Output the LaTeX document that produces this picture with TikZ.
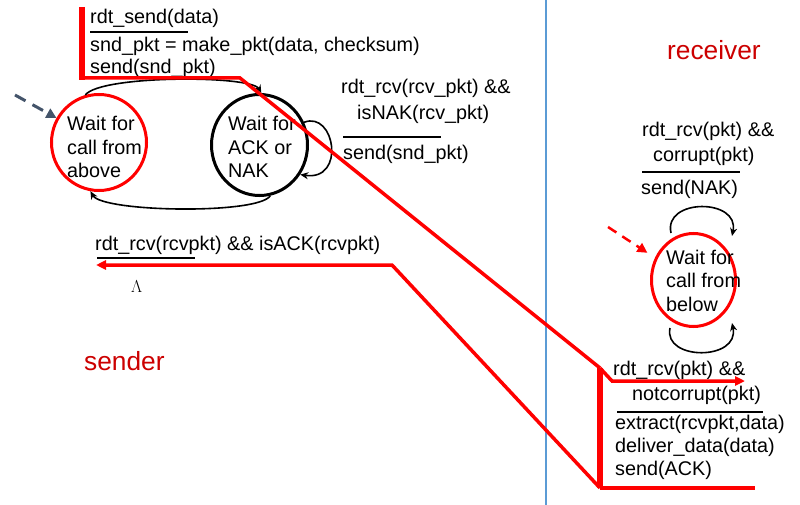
\documentclass[tikz,border=0pt]{standalone}
\usepackage{fontspec}
\setmainfont{Liberation Sans}
\usetikzlibrary{arrows.meta,shapes.geometric}
\definecolor{hilite}{RGB}{255,0,0}
\definecolor{sidelabel}{RGB}{204,0,0}
\definecolor{slate}{RGB}{68,84,106}
\definecolor{divider}{RGB}{91,155,213}

\begin{document}
\begin{tikzpicture}[x=1pt,y=-1pt,
  txt/.style={inner sep=0pt, anchor=base west, font=\fontsize{19.8}{23.5}\selectfont},
  side/.style={inner sep=0pt, anchor=base west, text=sidelabel, font=\fontsize{26.3}{30}\selectfont},
  state/.style={ellipse, draw, line width=3pt, inner sep=0pt},
  rule/.style={line width=2pt},
  loop/.style={line width=1.6pt, -{Stealth[length=8pt,width=7pt]}},
  hl/.style={draw=hilite, line width=3.5pt, line join=miter},
  hlbar/.style={draw=hilite, line width=5.5pt},
  hlarrow/.style={hl, -{Triangle[length=10pt,width=9pt]}},
  initarrow/.style={line width=3pt, dash pattern=on 12pt off 8pt, -{Triangle[length=10pt,width=10pt]}}
]
\useasboundingbox (0,0) rectangle (800,505);

% sender / receiver divider
\draw[divider, line width=1.2pt] (546,0) -- (546,505);

% ---------- sender states ----------
\node[state, draw=hilite, minimum width=95pt, minimum height=96pt] (above) at (99,142.5) {};
\node[state, draw=black, minimum width=96pt, minimum height=101pt] (ack) at (259.5,145) {};
\node[txt] (abovetxt) at (67,131) {\begin{tabular}[t]{@{}l@{}}Wait for\\call from\\above\end{tabular}};
\node[txt] (acktxt) at (228,131) {\begin{tabular}[t]{@{}l@{}}Wait for\\ACK or\\NAK\end{tabular}};

% sender transitions
\draw[loop] (above.106) .. controls +(15,-20) and +(-10,-18) .. (ack.88);
\draw[loop] (ack.-78) .. controls +(-12,19) and +(12,21) .. (above.-100);
\draw[loop] (ack.27) .. controls +(31,-12) and +(46,7) .. (ack.-36);
\coordinate (sinit) at (15,95);
\draw[initarrow, slate] (sinit) -- (above.150);

% sender labels
\node[txt] (sendev) at (90,24) {rdt\_send(data)};
\draw[rule] (90,32) -- (188,32);
\node[txt] (sendact1) at (90,52) {snd\_pkt = make\_pkt(data, checksum)};
\node[txt] (sendact2) at (90,74) {send(snd\_pkt)};

\node[txt] (nakev1) at (341,94) {rdt\_rcv(rcv\_pkt) \&\&};
\node[txt] (nakev2) at (357,120) {isNAK(rcv\_pkt)};
\draw[rule] (343,137) -- (441,137);
\node[txt] (nakact) at (343,160) {send(snd\_pkt)};

\node[txt] (ackev) at (95,250) {rdt\_rcv(rcvpkt) \&\& isACK(rcvpkt)};
\draw[rule] (97,258) -- (195,258);
\node[inner sep=0pt, anchor=base west, font=\fontsize{17}{20}\selectfont] (lambda) at (131,292) {$\Lambda$};

\node[side] (sender) at (84,370) {sender};

% ---------- receiver state ----------
\node[side] (receiver) at (667,60) {receiver};
\node[state, draw=hilite, minimum width=84pt, minimum height=93pt] (below) at (693.5,280) {};
\node[txt] (belowtxt) at (666,264) {\begin{tabular}[t]{@{}l@{}}Wait for\\call from\\below\end{tabular}};

% self loops drawn just above and below the state
\coordinate (toploopa) at (671,233);
\coordinate (toploopb) at (732,236);
\coordinate (botloopa) at (670,328);
\coordinate (botloopb) at (732,323);
\draw[loop] (toploopa) .. controls (663,198) and (740,198) .. (toploopb);
\draw[loop] (botloopa) .. controls (663,361) and (740,361) .. (botloopb);
\coordinate (rinit) at (608,227);
\draw[initarrow, hilite, line width=2.5pt, dash pattern=on 10pt off 7pt, shorten >=9pt] (rinit) -- (below.150);

% receiver labels
\node[txt] (corev1) at (642,137) {rdt\_rcv(pkt) \&\&};
\node[txt] (corev2) at (653,162) {corrupt(pkt)};
\draw[rule] (642,172) -- (740,172);
\node[txt] (coract) at (641,195) {send(NAK)};

\node[txt] (okev1) at (613,375) {rdt\_rcv(pkt) \&\&};
\node[txt] (okev2) at (632,400) {notcorrupt(pkt)};
\draw[rule] (617,412) -- (763,412);
\node[txt] (okact1) at (615,429) {extract(rcvpkt,data)};
\node[txt] (okact2) at (615,452) {deliver\_data(data)};
\node[txt] (okact3) at (615,475) {send(ACK)};

% ---------- highlighted message path ----------
\coordinate (sbartop) at (82,7);
\coordinate (sbarbot) at (82,80);
\coordinate (scorner) at (82,78);
\coordinate (sbend) at (240,78);
\coordinate (rbartop) at (600,368);
\coordinate (rbarbot) at (600,488);
\coordinate (rstep) at (612,381);
\coordinate (rtip) at (745,381);
\coordinate (rend) at (755,488);
\coordinate (abend) at (392,265);
\coordinate (atip) at (96,265);

\draw[hlbar] (sbartop) -- (sbarbot);
\draw[hl] (scorner) -- (sbend) -- (rbartop);
\draw[hlbar] (rbartop) -- (rbarbot);
\draw[hlarrow] (rbartop) -- (rstep) -- (rtip);
\draw[hl] (rbarbot) -- (rend);
\draw[hlarrow] (rbarbot) -- (abend) -- (atip);
\end{tikzpicture}
\end{document}
